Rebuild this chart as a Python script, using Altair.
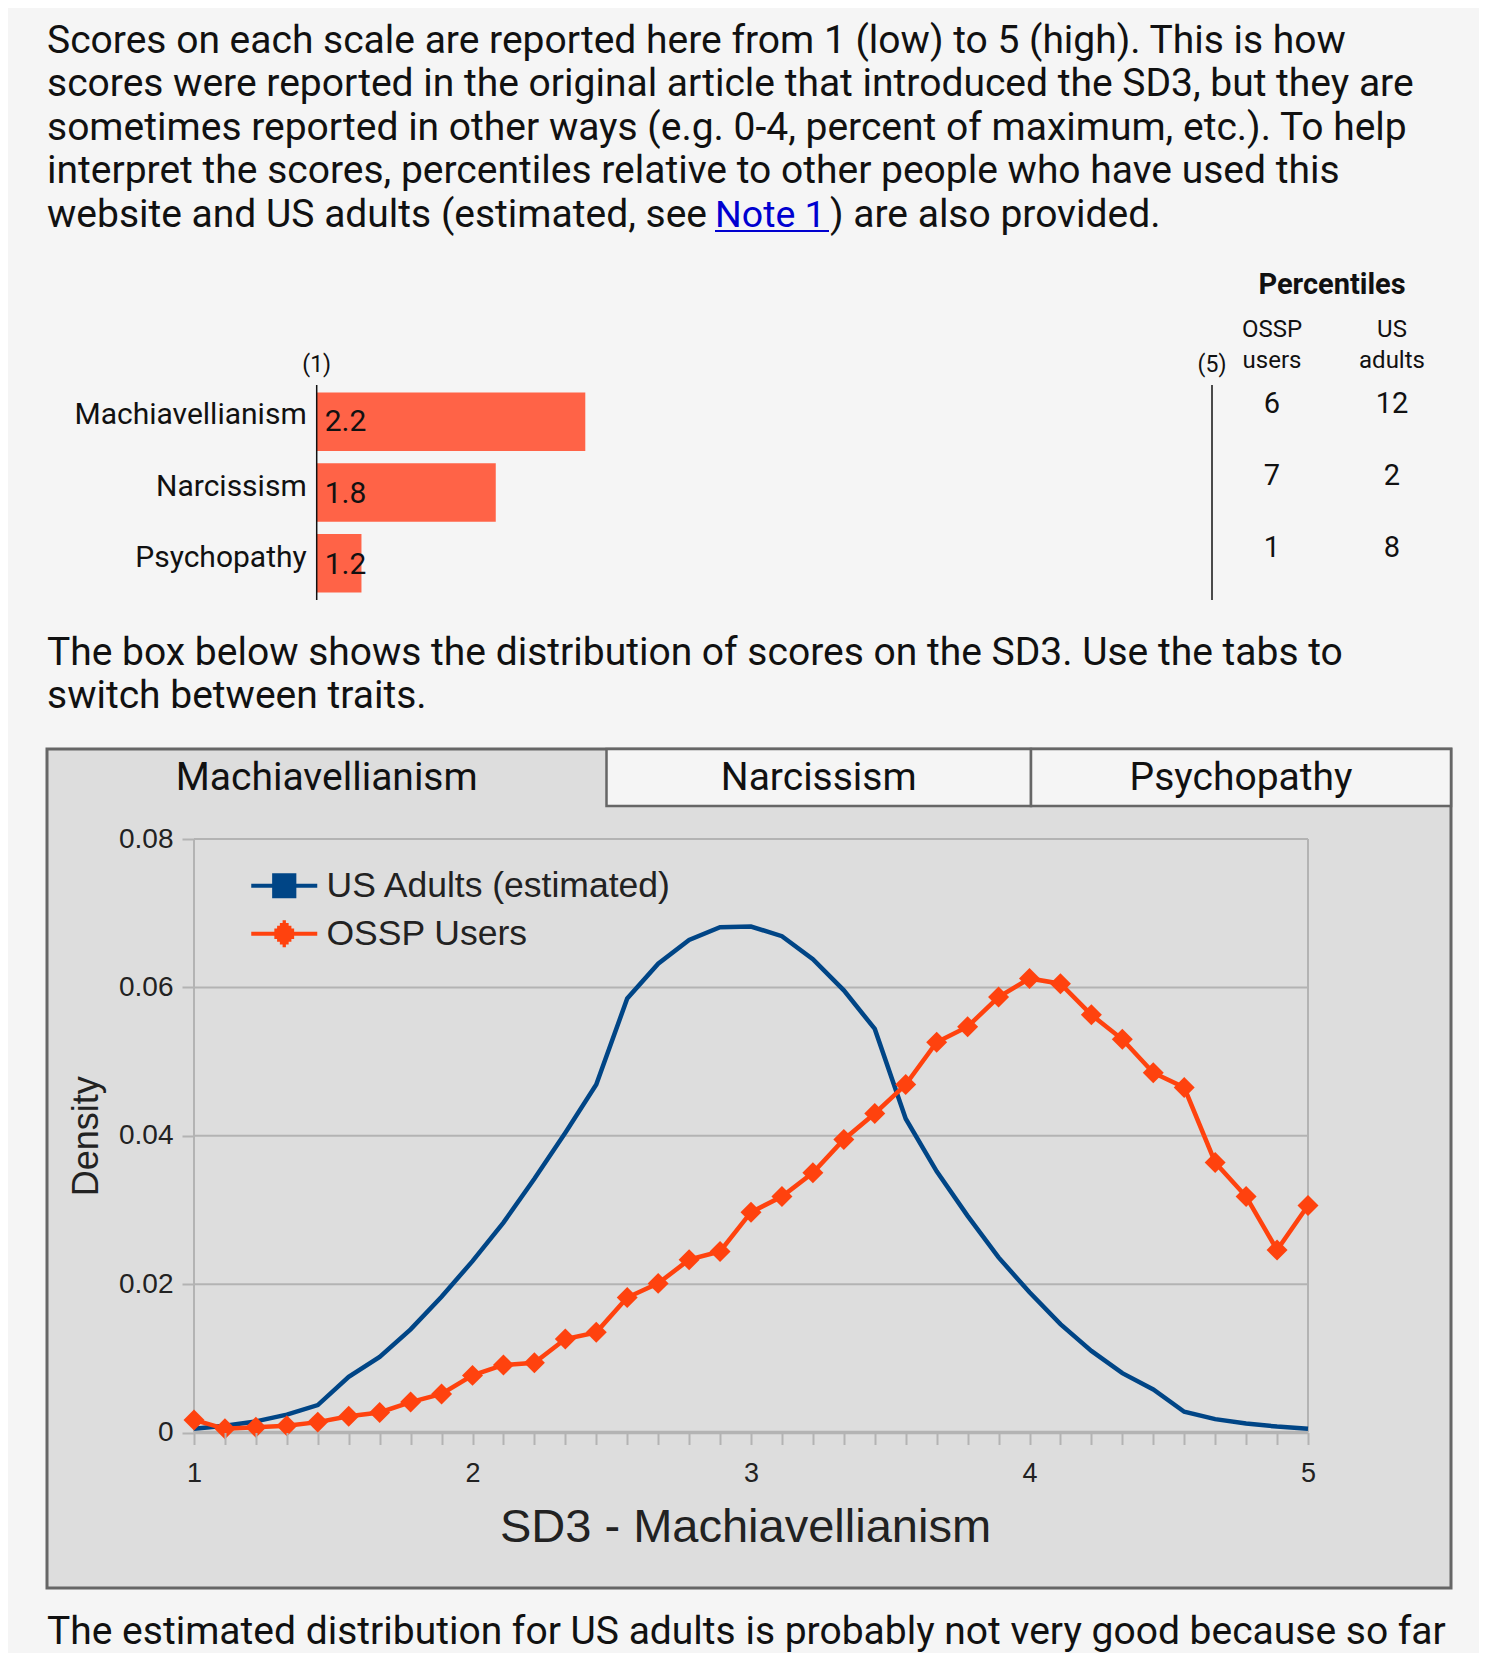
import altair as alt
import pandas as pd

# ---------------- data ----------------
intro_lines = [
    "Scores on each scale are reported here from 1 (low) to 5 (high). This is how",
    "scores were reported in the original article that introduced the SD3, but they are",
    "sometimes reported in other ways (e.g. 0-4, percent of maximum, etc.). To help",
    "interpret the scores, percentiles relative to other people who have used this",
]
intro_last = ["website and US adults (estimated, see ", "Note 1", ") are also provided."]
box_lines = [
    "The box below shows the distribution of scores on the SD3. Use the tabs to",
    "switch between traits.",
]
bottom_line = "The estimated distribution for US adults is probably not very good because so far"

traits = ["Machiavellianism", "Narcissism", "Psychopathy"]
scores = [2.2, 1.8, 1.2]
scale_ends = [1, 5]
scale_end_labels = ["(1)", "(5)"]

pct_title = "Percentiles"
pct_groups = ["OSSP users", "US adults"]
pct_headers = ["OSSP\nusers", "US\nadults"]
pct_ossp = [6, 7, 1]
pct_us = [12, 2, 8]

tab_names = ["Machiavellianism", "Narcissism", "Psychopathy"]
series_names = ["US Adults (estimated)", "OSSP Users"]
score_grid = [1 + k / 9 for k in range(37)]
us_density = [0.0005, 0.0009, 0.0015, 0.0024, 0.0037, 0.0075, 0.0102, 0.0139, 0.0183,
              0.0231, 0.0283, 0.0342, 0.0404, 0.0469, 0.0585, 0.0632, 0.0664, 0.0681,
              0.0682, 0.0669, 0.0638, 0.0596, 0.0544, 0.0423, 0.0352, 0.0292, 0.0236,
              0.0189, 0.0146, 0.0110, 0.0080, 0.0058, 0.0028, 0.0018, 0.0012, 0.0008,
              0.0005]
ossp_density = [0.0017, 0.0005, 0.0007, 0.0009, 0.0014, 0.0022, 0.0027, 0.0041, 0.0052,
                0.0077, 0.0091, 0.0094, 0.0126, 0.0135, 0.0182, 0.0201, 0.0233, 0.0244,
                0.0297, 0.0318, 0.0350, 0.0395, 0.0430, 0.0469, 0.0526, 0.0547, 0.0587,
                0.0612, 0.0605, 0.0563, 0.0530, 0.0485, 0.0465, 0.0364, 0.0318, 0.0246,
                0.0306]
density_ticks = [0, 0.02, 0.04, 0.06, 0.08]
x_title = "SD3 - Machiavellianism"
y_title = "Density"

# ---------------- layout ----------------
W, H = 1471, 1645
FONT = "Roboto"
CFONT = "Liberation Sans"
PFS = 39  # paragraph font size
INK = "#111111"
CINK = "#222222"
GRIDC = "#b3b3b3"
BORDER = "#666666"
PANEL = "#dddddd"
PAGE = "#f5f5f5"
LINK = "#0000d0"

one = pd.DataFrame({"_": [0]})


def txt(s, x, y, size=PFS, color=INK, font=FONT, weight="normal", align="left"):
    return alt.Chart(one).mark_text(
        align=align, baseline="alphabetic", font=font, fontSize=size,
        color=color, fontWeight=weight
    ).encode(x=alt.value(x), y=alt.value(y), text=alt.value(s))


def box(x1, x2, y1, y2, fill, stroke, sw):
    return alt.Chart(one).mark_rect(fill=fill, stroke=stroke, strokeWidth=sw).encode(
        x=alt.value(x1), x2=alt.value(x2), y=alt.value(y1), y2=alt.value(y2))


layers = []

# intro paragraph
LH = 43.4
for i, line in enumerate(intro_lines):
    layers.append(txt(line, 39, 45 + i * LH))
yl = 45 + 4 * LH
layers.append(txt(intro_last[0], 39, yl))
layers.append(txt(intro_last[1], 707, yl, color=LINK, size=37.5))
layers.append(alt.Chart(one).mark_rule(color=LINK, strokeWidth=2).encode(
    x=alt.value(707), x2=alt.value(821), y=alt.value(yl + 4.5)))
layers.append(txt(intro_last[2], 822, yl))

# second paragraph + bottom line
for i, line in enumerate(box_lines):
    layers.append(txt(line, 39, 657 + i * LH))
layers.append(txt(bottom_line, 39, 1636))

# panel + tabs
layers.append(box(39, 1443, 741, 1580, PANEL, BORDER, 3))
tab_edges = [39, 598.5, 1023, 1443]
for i in (1, 2):
    layers.append(box(tab_edges[i], tab_edges[i + 1], 741, 798, PAGE, BORDER, 2.5))
for i, name in enumerate(tab_names):
    layers.append(txt(name, (tab_edges[i] + tab_edges[i + 1]) / 2, 782, align="center"))

# ---------------- score bars ----------------
bars_df = pd.DataFrame({"trait": traits, "score": scores})
ends_df = pd.DataFrame({"end": scale_ends, "label": scale_end_labels})
bx = alt.Scale(domain=[1, 5], range=[308.7, 1204], nice=False, zero=False)
by = alt.Scale(domain=traits, range=[377, 592], paddingInner=0.173, paddingOuter=0.106)
Yb = alt.Y("trait:N", scale=by, axis=None, sort=traits)

layers.append(alt.Chart(bars_df).mark_bar(color="#ff6347").encode(
    x=alt.X("score:Q", scale=bx, axis=None), x2=alt.X2Datum(1), y=Yb))
layers.append(alt.Chart(bars_df).mark_text(
    align="right", baseline="alphabetic", dx=-10, dy=3, font=FONT, fontSize=30, color=INK
).encode(x=alt.XDatum(1, scale=bx, axis=None), y=Yb, text="trait:N"))
layers.append(alt.Chart(bars_df).mark_text(
    align="left", baseline="alphabetic", dx=8, dy=10, font=FONT, fontSize=30, color=INK
).encode(x=alt.XDatum(1, scale=bx, axis=None), y=Yb,
         text=alt.Text("score:Q", format=".1f")))
layers.append(alt.Chart(ends_df).mark_rule(color=INK, strokeWidth=1.5).encode(
    x=alt.X("end:Q", scale=bx, axis=None), y=alt.value(377), y2=alt.value(592)))
layers.append(alt.Chart(ends_df).mark_text(
    align="center", baseline="alphabetic", font=FONT, fontSize=23, color=INK
).encode(x=alt.X("end:Q", scale=bx, axis=None), y=alt.value(364), text="label:N"))

# ---------------- percentile table ----------------
pct_df = pd.DataFrame({
    "trait": traits * 2,
    "group": [pct_groups[0]] * 3 + [pct_groups[1]] * 3,
    "value": pct_ossp + pct_us,
})
hdr_df = pd.DataFrame({"group": pct_groups, "header": pct_headers})
px = alt.Scale(type="point", domain=pct_groups, range=[1264, 1384], padding=0)
layers.append(alt.Chart(pct_df).mark_text(
    align="center", baseline="alphabetic", dy=-7.5, font=FONT, fontSize=29, color=INK
).encode(x=alt.X("group:N", scale=px, axis=None), y=Yb, text="value:Q"))
layers.append(alt.Chart(hdr_df).mark_text(
    align="center", baseline="alphabetic", lineBreak="\n", lineHeight=31,
    font=FONT, fontSize=24, color=INK
).encode(x=alt.X("group:N", scale=px, axis=None), y=alt.value(329.3), text="header:N"))
layers.append(txt(pct_title, 1324, 286.3, size=29, weight="bold", align="center"))

# ---------------- density chart ----------------
dens_df = pd.DataFrame({
    "score": score_grid * 2,
    "density": us_density + ossp_density,
    "series": [series_names[0]] * 37 + [series_names[1]] * 37,
})
grid_df = pd.DataFrame({"g": density_ticks})
frame_df = pd.DataFrame({"e": scale_ends})

Y0, Y8 = 1424.5, 831
dx = alt.Scale(domain=[1, 5], range=[186, 1300], nice=False, zero=False)
dy = alt.Scale(domain=[0, 0.08], range=[Y0, Y8], nice=False, zero=False)
cs = alt.Scale(domain=series_names, range=["#004586", "#ff420e"])

sq = "M-3,0H3" + "".join(f"M-1.1,{v:.2f}H1.1" for v in [-0.95, -0.65, -0.35, 0, 0.35, 0.65, 0.95])
dia = "M-3,0H3" + "".join(
    f"M{-(1.2 - abs(v)):.2f},{v:.2f}H{(1.2 - abs(v)):.2f}"
    for v in [-1.05, -0.8, -0.55, -0.3, 0, 0.3, 0.55, 0.8, 1.05])
shp = alt.Scale(domain=series_names, range=[sq, dia])

leg = alt.Legend(orient="none", legendX=258.5, legendY=860, title=None,
                 labelFont=CFONT, labelFontSize=35.5, labelColor=CINK, labelLimit=0,
                 symbolSize=484, symbolStrokeWidth=4, labelOffset=24.5, rowPadding=9,
                 padding=0)

xaxis = alt.Axis(values=score_grid, orient="bottom", offset=-(H - Y0),
                 labelExpr="abs(datum.value - round(datum.value)) < 0.001 ? format(datum.value, 'd') : ''",
                 domain=False, grid=False, tickSize=12, tickColor=GRIDC, tickWidth=2,
                 labelFont=CFONT, labelFontSize=27, labelColor=CINK, labelPadding=37,
                 labelBaseline="alphabetic", labelOverlap=False, labelFlush=False,
                 title=x_title, titleFont=CFONT, titleFontSize=47, titleFontWeight="normal",
                 titleColor=CINK, titleX=737, titleY=109, titleBaseline="alphabetic",
                 zindex=1)
yaxis = alt.Axis(values=density_ticks, orient="left", offset=-186,
                 labelExpr="datum.value == 0 ? '0' : format(datum.value, '.2f')",
                 domain=False, grid=False, tickSize=12, tickColor=GRIDC, tickWidth=2,
                 labelFont=CFONT, labelFontSize=28, labelColor=CINK, labelPadding=9,
                 labelOverlap=False,
                 title=y_title, titleFont=CFONT, titleFontSize=36, titleFontWeight="normal",
                 titleColor=CINK, titleX=-108, titleBaseline="middle", zindex=1)

layers.append(alt.Chart(grid_df).mark_rule(color=GRIDC, strokeWidth=2).encode(
    y=alt.Y("g:Q", scale=dy, axis=None),
    x=alt.XDatum(1, scale=dx, axis=None), x2=alt.X2Datum(5)))
layers.append(alt.Chart(one).mark_rule(color=GRIDC, strokeWidth=3.5).encode(
    y=alt.YDatum(0, scale=dy, axis=None),
    x=alt.XDatum(1, scale=dx, axis=None), x2=alt.X2Datum(5)))
layers.append(alt.Chart(frame_df).mark_rule(color=GRIDC, strokeWidth=2).encode(
    x=alt.X("e:Q", scale=dx, axis=None),
    y=alt.YDatum(0, scale=dy, axis=None), y2=alt.Y2Datum(0.08)))
layers.append(alt.Chart(dens_df).mark_line(strokeWidth=4.5).encode(
    x=alt.X("score:Q", scale=dx, axis=xaxis),
    y=alt.Y("density:Q", scale=dy, axis=yaxis),
    color=alt.Color("series:N", scale=cs, legend=leg),
    order="score:Q"))
layers.append(alt.Chart(dens_df).mark_point(shape="diamond", filled=True, size=440, opacity=1).encode(
    x=alt.X("score:Q", scale=dx, axis=None), y=alt.Y("density:Q", scale=dy, axis=None),
    color=alt.Color("series:N", scale=cs, legend=leg)
).transform_filter(alt.datum.series == series_names[1]))
layers.append(alt.Chart(dens_df).mark_point(filled=False, opacity=1, strokeWidth=4).encode(
    x=alt.X("score:Q", scale=dx, axis=None), y=alt.Y("density:Q", scale=dy, axis=None),
    color=alt.Color("series:N", scale=cs, legend=leg),
    shape=alt.Shape("series:N", scale=shp, legend=leg)
).transform_filter("datum.score > 100"))

chart = alt.layer(*layers).resolve_scale(
    x="independent", y="independent"
).properties(
    width=W, height=H, background=PAGE, padding=0,
    autosize=alt.AutoSizeParams(type="none")
).configure_view(stroke=None)

chart.save("out.html", embed_options={"renderer": "svg", "actions": False})
